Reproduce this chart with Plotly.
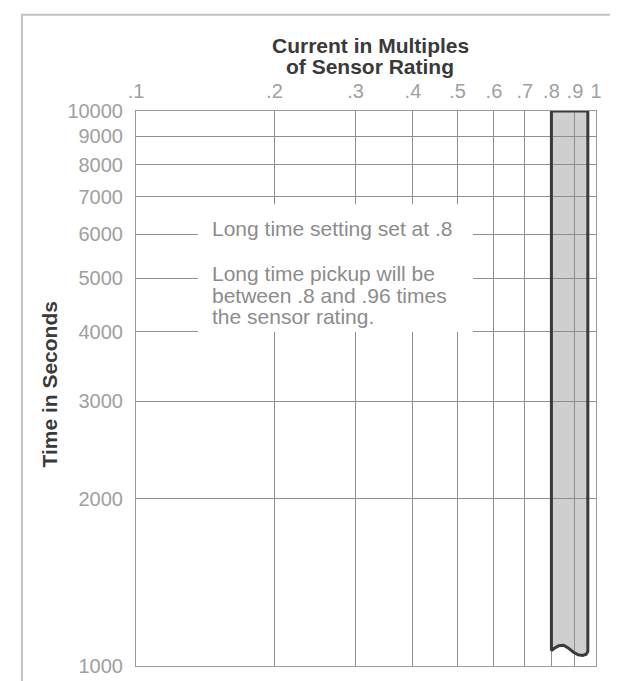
import plotly.graph_objects as go

# ---- data ----
x_ticks = [0.1, 0.2, 0.3, 0.4, 0.5, 0.6, 0.7, 0.8, 0.9, 1.0]
x_tick_text = [".1", ".2", ".3", ".4", ".5", ".6", ".7", ".8", ".9", "1"]
y_ticks = [1000, 2000, 3000, 4000, 5000, 6000, 7000, 8000, 9000, 10000]
y_tick_text = ["1000", "2000", "3000", "4000", "5000", "6000", "7000", "8000", "9000", "10000"]

# pickup band (0.8 to 0.96 x sensor rating), wavy broken bottom
band_x = [0.80, 0.96, 0.96, 0.952, 0.935, 0.915, 0.892, 0.87, 0.85, 0.83, 0.812, 0.80, 0.80]
band_y = [10000, 10000, 1062, 1050, 1045, 1048, 1060, 1078, 1090, 1088, 1076, 1066, 10000]

title_lines = ["Current in Multiples", "of Sensor Rating"]
y_title = "Time in Seconds"
note_lines = ["Long time setting set at .8", "Long time pickup will be",
              "between .8 and .96 times", "the sensor rating."]

# ---- layout geometry (pixels) ----
W, H = 618, 681
L, R, T, B = 128, 588, 103, 663


def px(x):
    return (x - L) / (R - L)


def py(y):
    return (B - y) / (B - T)


fig = go.Figure()
fig.add_trace(go.Scatter(
    x=band_x, y=band_y, mode="lines", fill="toself",
    fillcolor="rgba(140,140,140,0.42)",
    line=dict(color="#3a3a3a", width=3),
    hoverinfo="skip", showlegend=False))

font = "Liberation Sans, Arial, sans-serif"

shapes = [
    # white box behind the note
    dict(type="rect", xref="paper", yref="paper", x0=px(190), x1=px(465),
         y0=py(326), y1=py(197), fillcolor="white", line=dict(width=0), layer="above"),
    # outer frame
    dict(type="path", xref="paper", yref="paper",
         path=f"M {px(14)} {py(690)} L {px(14)} {py(6)} L {px(612)} {py(6)} L {px(612)} {py(690)}",
         line=dict(color="#c4c4c4", width=2), layer="above"),
]

annotations = []
for i, t in enumerate(title_lines):
    annotations.append(dict(text=t, xref="paper", yref="paper", x=px(362), y=py(37 + i * 21),
                            showarrow=False, xanchor="center", yanchor="middle",
                            font=dict(family=font, size=21, color="#3a3a3a", weight="bold")))
annotations.append(dict(text=y_title, xref="paper", yref="paper", x=px(42), y=py(379),
                        showarrow=False, textangle=-90, xanchor="center", yanchor="middle",
                        font=dict(family=font, size=21, color="#3a3a3a", weight="bold")))
note_y = [222, 267, 289, 310]
for t, yy in zip(note_lines, note_y):
    annotations.append(dict(text=t, xref="paper", yref="paper", x=px(202), y=py(yy),
                            showarrow=False, xanchor="left", yanchor="middle",
                            font=dict(family=font, size=21, color="#8c8c8c")))

fig.update_layout(
    width=W, height=H,
    margin=dict(l=L, r=W - R, t=T, b=H - B),
    paper_bgcolor="white", plot_bgcolor="white",
    showlegend=False,
    xaxis=dict(type="log", range=[-1, 0], side="top", tickvals=x_ticks, ticktext=x_tick_text,
               showgrid=True, gridcolor="#8f8f8f", gridwidth=1, zeroline=False,
               showline=True, linecolor="#9a9a9a", mirror=True, ticks="",
               tickfont=dict(family=font, size=20, color="#a0a0a0"), ticklabelstandoff=4),
    yaxis=dict(type="log", range=[3, 4], tickvals=y_ticks, ticktext=y_tick_text,
               showgrid=True, gridcolor="#8f8f8f", gridwidth=1, zeroline=False,
               showline=True, linecolor="#9a9a9a", mirror=True, ticks="",
               tickfont=dict(family=font, size=20, color="#a0a0a0"), ticklabelstandoff=8),
    shapes=shapes, annotations=annotations,
)

fig.write_html("out.html")
